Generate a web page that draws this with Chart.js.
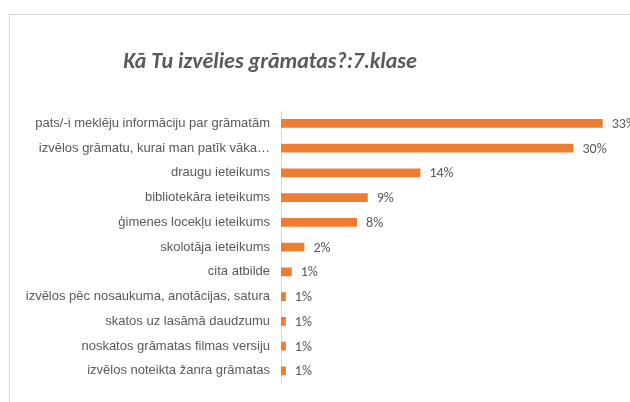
<!DOCTYPE html>
<html>
<head>
<meta charset="utf-8">
<script src="https://cdn.jsdelivr.net/npm/chart.js@4.4.1/dist/chart.umd.min.js"></script>
<style>
  html, body { margin: 0; padding: 0; background: #fff; overflow: hidden; }
  #frame {
    position: absolute; left: 9px; top: 14px;
    width: 640px; height: 400px;
    border-left: 1px solid #d9d9d9; border-top: 1px solid #d9d9d9;
  }
  #myChart { position: absolute; left: 0; top: 0; }
</style>
</head>
<body>
<div id="frame">
  <canvas id="myChart" width="620" height="387"></canvas>
</div>
<script>
const categories = [
  "pats/-i meklēju informāciju par grāmatām",
  "izvēlos grāmatu, kurai man patīk vāka…",
  "draugu ieteikums",
  "bibliotekāra ieteikums",
  "ģimenes locekļu ieteikums",
  "skolotāja ieteikums",
  "cita atbilde",
  "izvēlos pēc nosaukuma, anotācijas, satura",
  "skatos uz lasāmā daudzumu",
  "noskatos grāmatas filmas versiju",
  "izvēlos noteikta žanra grāmatas"
];
const shares = [33.0, 30.0, 14.3, 8.9, 7.8, 2.4, 1.1, 0.5, 0.5, 0.5, 0.5];
const shareLabels = ["33%", "30%", "14%", "9%", "8%", "2%", "1%", "1%", "1%", "1%", "1%"];

const chartTitle = "Kā Tu izvēlies grāmatas?:7.klase";

// title is centred over the whole chart box, which is wider than the window
const titlePlugin = {
  id: 'titlePlugin',
  afterDraw(chart) {
    const { ctx } = chart;
    ctx.save();
    ctx.font = 'italic bold 22px Carlito, Lato, "Open Sans", sans-serif';
    ctx.fillStyle = '#595959';
    ctx.textAlign = 'center';
    ctx.textBaseline = 'alphabetic';
    ctx.fillText(chartTitle, 260, 53);
    ctx.restore();
  }
};

const valueLabels = {
  id: 'valueLabels',
  afterDatasetsDraw(chart) {
    const { ctx } = chart;
    const meta = chart.getDatasetMeta(0);
    ctx.save();
    ctx.font = '14px Carlito, "Liberation Sans Narrow", Roboto, sans-serif';
    ctx.fillStyle = '#595959';
    ctx.textAlign = 'left';
    ctx.textBaseline = 'middle';
    meta.data.forEach((bar, i) => {
      ctx.fillText(shareLabels[i], bar.x + 9, bar.y + 1);
    });
    ctx.restore();
  }
};

new Chart(document.getElementById('myChart'), {
  type: 'bar',
  data: {
    labels: categories,
    datasets: [{
      data: shares,
      backgroundColor: '#ED7D31',
      borderWidth: 0,
      barPercentage: 0.35,
      categoryPercentage: 1
    }]
  },
  options: {
    indexAxis: 'y',
    responsive: false,
    animation: false,
    layout: { padding: { top: 96, bottom: 9, left: 0, right: 0 } },
    plugins: {
      legend: { display: false },
      tooltip: { enabled: false },
      title: { display: false }
    },
    scales: {
      x: {
        display: false,
        min: 0,
        max: 35.8
      },
      y: {
        afterFit(scale) { scale.width = 271; },
        grid: { display: false, drawTicks: false },
        border: { display: true, color: '#d9d9d9', width: 1 },
        ticks: {
          padding: 11,
          color: '#595959',
          autoSkip: false,
          font: { family: '"Liberation Sans", Arial, sans-serif', size: 13 }
        }
      }
    }
  },
  plugins: [titlePlugin, valueLabels]
});
</script>
</body>
</html>
